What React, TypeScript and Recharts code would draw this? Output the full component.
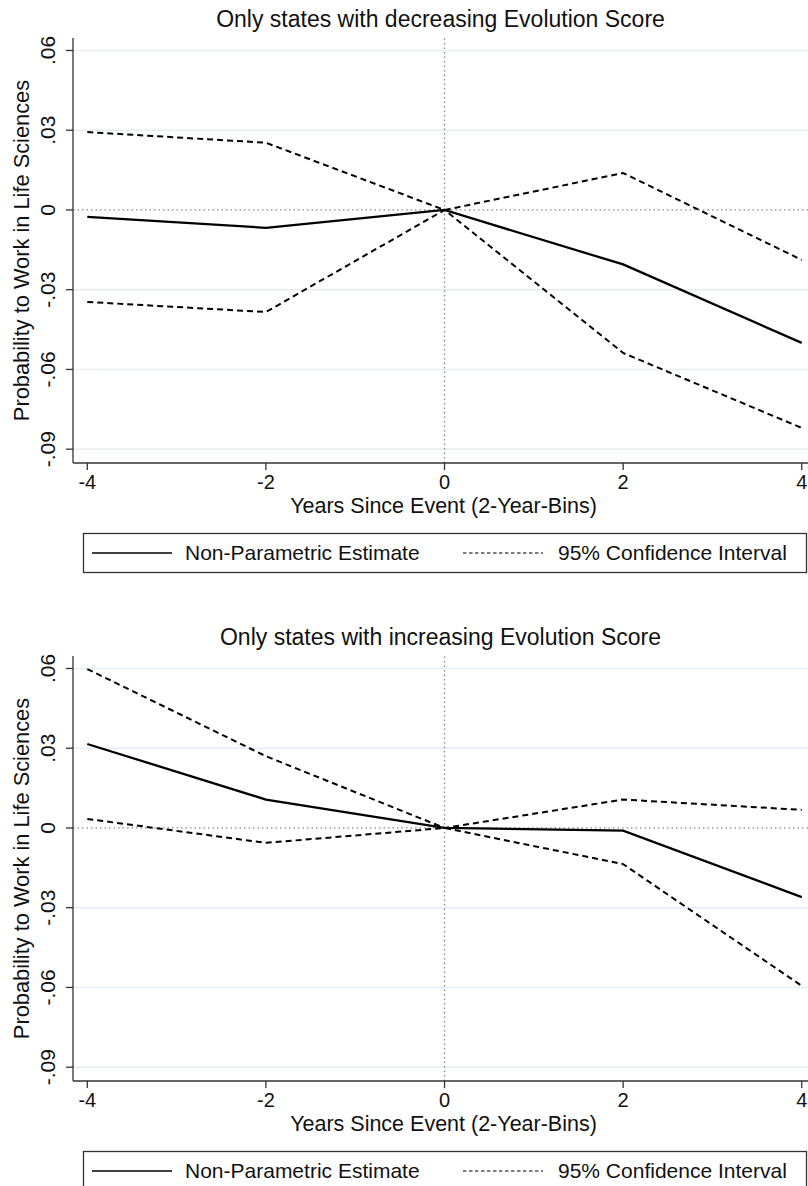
import { CartesianGrid, Line, LineChart, ReferenceLine, XAxis, YAxis } from 'recharts';

const years = [-4, -2, 0, 2, 4];

// top panel: decreasing evolution score
const decEstimate = [-0.0026, -0.0067, 0, -0.0205, -0.050];
const decUpper = [0.0293, 0.0253, 0, 0.0139, -0.0188];
const decLower = [-0.0346, -0.0384, 0, -0.0538, -0.082];

// bottom panel: increasing evolution score
const incEstimate = [0.0316, 0.0107, 0, -0.001, -0.026];
const incUpper = [0.0598, 0.027, 0, 0.0107, 0.0068];
const incLower = [0.0034, -0.0056, 0, -0.0136, -0.0594];

const yTicks = [0.06, 0.03, 0, -0.03, -0.06, -0.09];
const gridTicks = [0.06, 0.03, -0.03, -0.06, -0.09];

const font = '"Liberation Sans", Arial, sans-serif';
const axisColor = '#333';

const fmtY = (v: number) =>
  v === 0 ? '0' : (v < 0 ? '-' : '') + Math.abs(v).toFixed(2).replace(/^0/, '');

const YTick = (props: any) => {
  const { x, y, payload } = props;
  return (
    <text
      x={x}
      y={y}
      transform={`rotate(-90, ${x}, ${y})`}
      textAnchor='middle'
      fontSize={21}
      fontFamily={font}
      fill='#111'
    >
      {fmtY(payload.value)}
    </text>
  );
};

function Panel({
  title,
  estimate,
  upper,
  lower,
  top,
}: {
  title: string;
  estimate: number[];
  upper: number[];
  lower: number[];
  top: number;
}) {
  const data = years.map((yr, i) => ({
    year: yr,
    est: estimate[i],
    hi: upper[i],
    lo: lower[i],
  }));

  return (
    <div style={{ position: 'absolute', left: 0, top, width: 808, height: 600 }}>
      <LineChart
        width={808}
        height={600}
        data={data}
        margin={{ top: 38, right: 0, bottom: 87, left: 0 }}
      >
        <CartesianGrid
          vertical={false}
          horizontalValues={gridTicks}
          stroke='#e6eef1'
          strokeWidth={1.5}
        />
        <XAxis
          dataKey='year'
          type='number'
          domain={[-4.16, 4.07]}
          ticks={years}
          allowDataOverflow
          height={50}
          tickSize={7}
          tickMargin={5}
          stroke={axisColor}
          strokeWidth={1.3}
          tick={{ fontSize: 20, fontFamily: font, fill: '#111' }}
          label={(p: any) => {
            const vb = p.viewBox;
            return (
              <text
                x={vb.x + vb.width / 2 + 3}
                y={513 - 463 + vb.y}
                textAnchor='middle'
                fontSize={21.5}
                fontFamily={font}
                fill='#111'
              >
                Years Since Event (2-Year-Bins)
              </text>
            );
          }}
        />
        <YAxis
          type='number'
          domain={[-0.0952, 0.0647]}
          ticks={yTicks}
          allowDataOverflow
          width={73}
          tickSize={7}
          tickMargin={11}
          stroke={axisColor}
          strokeWidth={1.3}
          tick={<YTick />}
          label={(p: any) => {
            const vb = p.viewBox;
            const cy = vb.y + vb.height / 2;
            return (
              <text
                x={29}
                y={cy}
                transform={`rotate(-90, 29, ${cy})`}
                textAnchor='middle'
                fontSize={21.8}
                fontFamily={font}
                fill='#111'
              >
                Probability to Work in Life Sciences
              </text>
            );
          }}
        />
        <ReferenceLine y={0} stroke='#888' strokeDasharray='1.5 3' strokeWidth={1.3} />
        <ReferenceLine x={0} stroke='#888' strokeDasharray='1.5 3' strokeWidth={1.3} />
        <Line
          dataKey='hi'
          stroke='#000'
          strokeWidth={2}
          strokeDasharray='6 4'
          dot={false}
          isAnimationActive={false}
        />
        <Line
          dataKey='lo'
          stroke='#000'
          strokeWidth={2}
          strokeDasharray='6 4'
          dot={false}
          isAnimationActive={false}
        />
        <Line
          dataKey='est'
          stroke='#000'
          strokeWidth={2.3}
          dot={false}
          isAnimationActive={false}
        />
      </LineChart>
      <svg
        width={808}
        height={600}
        style={{ position: 'absolute', left: 0, top: 0, pointerEvents: 'none' }}
      >
        <text x={440.5} y={27} textAnchor='middle' fontSize={23} fontFamily={font} fill='#111'>
          {title}
        </text>
        <rect x={83.5} y={533.5} width={723} height={39} fill='none' stroke={axisColor} strokeWidth={1.3} />
        <line x1={92} x2={172} y1={553} y2={553} stroke='#000' strokeWidth={1.5} />
        <text x={185} y={560} fontSize={21} fontFamily={font} fill='#111'>
          Non-Parametric Estimate
        </text>
        <line x1={463} x2={543} y1={553} y2={553} stroke='#000' strokeWidth={1.2} strokeDasharray='3.5 2.5' />
        <text x={558} y={560} fontSize={21} fontFamily={font} fill='#111'>
          95% Confidence Interval
        </text>
      </svg>
    </div>
  );
}

export default function App() {
  return (
    <div
      style={{
        position: 'absolute',
        left: 0,
        top: 0,
        width: 808,
        height: 1186,
        overflow: 'hidden',
        background: '#fff',
      }}
    >
      <Panel
        title='Only states with decreasing Evolution Score'
        estimate={decEstimate}
        upper={decUpper}
        lower={decLower}
        top={0}
      />
      <Panel
        title='Only states with increasing Evolution Score'
        estimate={incEstimate}
        upper={incUpper}
        lower={incLower}
        top={618}
      />
    </div>
  );
}
